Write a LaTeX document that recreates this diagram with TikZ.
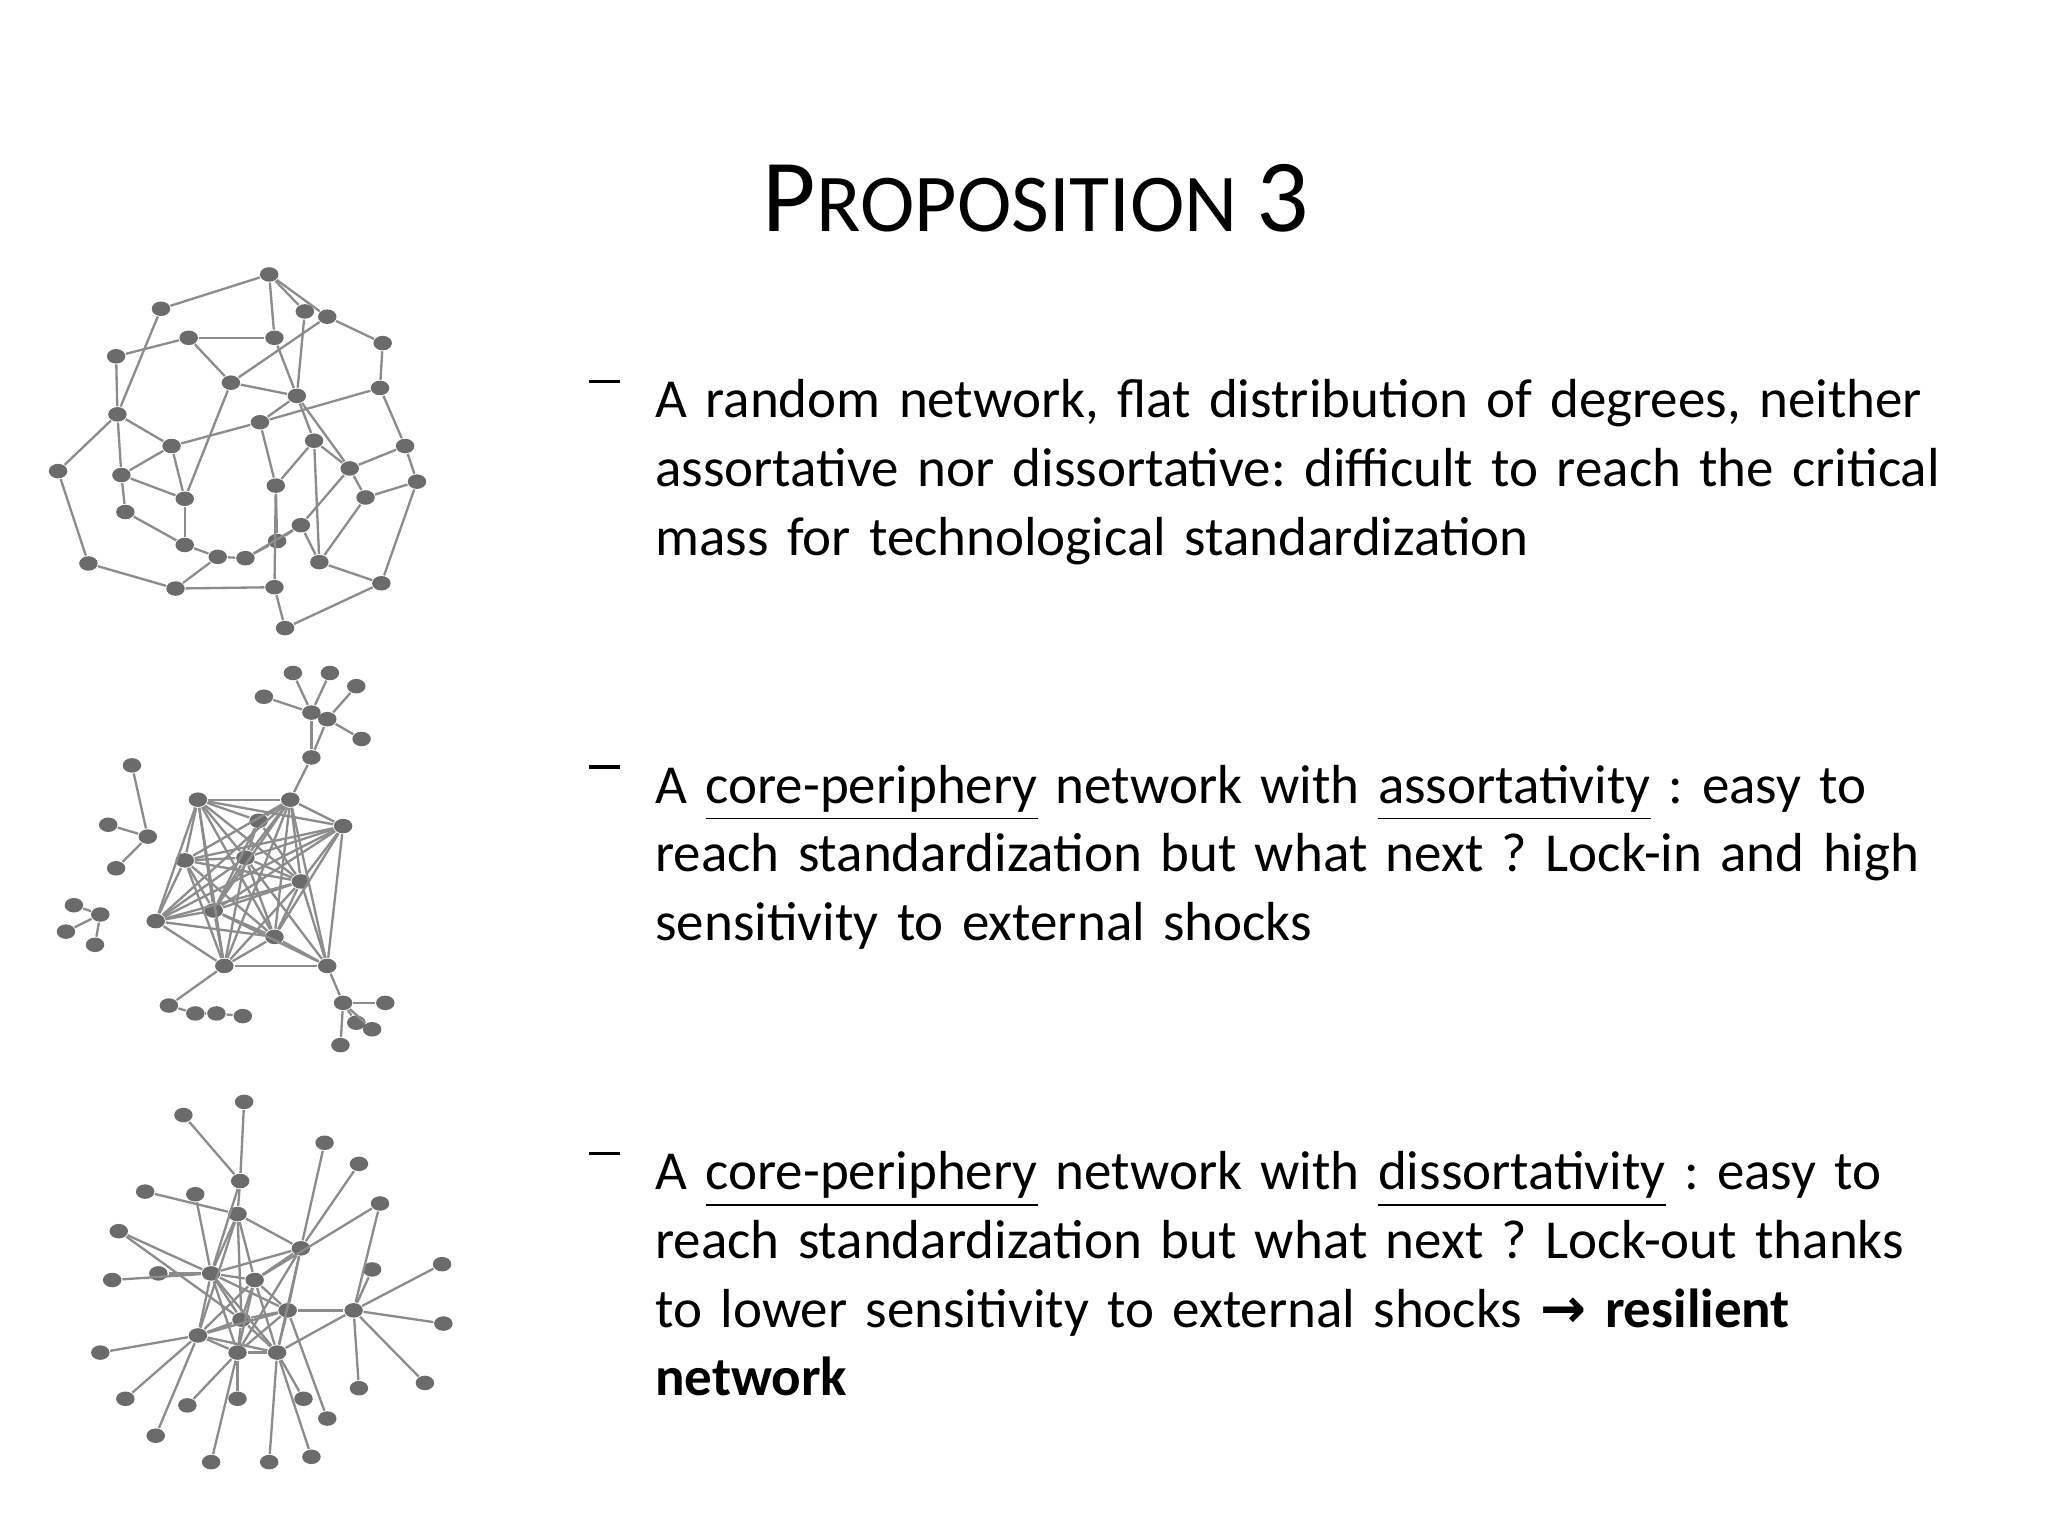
\documentclass[tikz,border=0pt]{standalone}
\usepackage{fontspec}
\usetikzlibrary{shapes.geometric}
\setmainfont{Carlito}
\newfontfamily\symfont{DejaVu Sans}
\frenchspacing
\newcommand{\mydash}{\rule[0.22em]{0.55em}{0.07em}}
\begin{document}
\begin{tikzpicture}[x=0.01cm,y=-0.01cm,
  lnk/.style={draw=black!45,line width=0.5pt},
  body/.style={anchor=north west,align=left,inner sep=0pt,font=\fontsize{11.85}{14.8}\selectfont,text width=11cm}]
\useasboundingbox (0,0) rectangle (1552,1164);
\tikzset{vtx/.style={ellipse,fill=black!58,inner sep=0pt,minimum width=0.14cm,minimum height=0.11cm}}
% title
\node (title) at (785,150) {\fontsize{22.3}{26}\selectfont P\fontsize{17.7}{21}\selectfont ROPOSITION \fontsize{22.3}{26}\selectfont 3};
% bullets
\node[body] (d1) at (446,287) {\mydash};
\node[body] (t1) at (496,287) {A random network, flat distribution of degrees, neither\\assortative nor dissortative: difficult to reach the critical\\mass for technological standardization};
\node[body] (d2) at (446,579) {\mydash};
\node[body] (t2) at (496,579) {A \underline{core-periphery} network with \underline{assortativity} : easy to\\reach standardization but what next ? Lock-in and high\\sensitivity to external shocks};
\node[body] (d3) at (446,872) {\mydash};
\node[body] (t3) at (496,872) {A \underline{core-periphery} network with \underline{dissortativity} : easy to\\reach standardization but what next ? Lock-out thanks\\to lower sensitivity to external shocks {\symfont\bfseries →} \textbf{resilient}\\\textbf{network}};
% network 1
\foreach \n/\x/\y in {a/204/208,b/122/234,c/231/236,d/248/240,e/143/256,f/208/256,g/290/260,h/88/270,i/175/290,j/225/300,k/288/294,l/89/314,m/197/320,n/130/338,o/238/334,p/307/338,q/44/357,r/92/360,s/265/355,t/316/365,u/140/378,v/209/368,w/277/377,x/95/388,y/228/398,z/140/413,A/210/410,B/165/422,C/186/423,D/67/427,E/242/426,F/133/446,G/208/445,H/289/442,I/216/476}
  \node[vtx] (p\n) at (\x,\y) {};
\foreach \u/\v in {a/b,a/c,a/d,b/l,e/f,e/h,h/l,e/i,i/d,f/j,c/j,i/j,l/n,n/m,m/j,m/k,l/q,l/r,r/n,r/u,n/u,i/u,m/v,j/o,o/v,d/g,g/k,k/p,p/t,t/w,w/s,s/p,o/s,j/s,q/D,D/F,F/G,G/I,I/H,H/E,E/y,y/A,A/v,x/r,x/z,z/u,z/B,B/C,C/A,C/y,B/F,v/G,w/E,t/H,s/y,o/E,a/f}
  \draw[lnk] (p\u) -- (p\v);
% network 2
\foreach \n/\x/\y in {a/150/606,b/220/606,c/260/626,d/140/652,e/186/650,f/228/668,g/118/698,h/162/690,i/208/710,j/170/732,k/248/732,l/196/622,
 m/236/574,n/222/510,o/250/510,p/270/520,q/248/545,r/200/528,s/274/560,t/236/540,
 u/100/580,v/112/634,w/82/625,x/88/658,y/56/686,z/76/693,A/50/706,B/72/716,
 C/128/762,D/148/768,E/164/768,F/184/770,G/260/760,H/292/760,I/282/780,J/258/792,K/270/775}
  \node[vtx] (q\n) at (\x,\y) {};
\foreach \u/\v in {a/b,a/c,a/d,a/e,a/f,a/g,a/h,a/i,a/j,a/l,b/c,b/d,b/e,b/f,b/g,b/h,b/i,b/j,b/k,b/l,c/d,c/e,c/f,c/g,c/h,c/i,c/k,d/e,d/f,d/g,d/h,d/i,d/j,e/f,e/g,e/h,e/i,e/j,e/k,f/g,f/h,f/i,f/j,f/k,g/h,g/i,g/j,h/i,h/j,h/k,i/j,i/k,j/k,l/e,l/h,l/f,
 b/m,m/t,t/n,t/o,m/q,q/p,q/s,t/r,u/v,v/x,w/v,y/z,z/A,z/B,j/C,C/D,D/E,E/F,k/G,G/H,G/I,G/J,G/K}
  \draw[lnk] (q\u) -- (q\v);
% network 3
\foreach \n/\x/\y in {a/160/965,b/193/970,c/218/993,d/183/1000,e/150/1012,f/210/1025,g/180/1025,h/228/946,i/268/993,j/180/920,k/182/895,
 l/139/845,m/185/835,n/110/903,o/148/905,p/246/866,q/272/882,r/288/912,s/90/933,t/85/970,u/120/965,v/282/962,w/335/958,x/336/1003,y/76/1025,z/95/1060,A/118/1088,B/160/1108,C/204/1108,D/236/1104,E/248/1075,F/272/1052,G/322/1048,H/230/1060,I/180/1060,J/142/1065}
  \node[vtx] (r\n) at (\x,\y) {};
\foreach \u/\v in {a/b,a/c,a/d,a/e,a/f,a/g,a/h,a/j,a/k,b/c,b/d,b/e,b/f,b/g,b/h,b/j,c/d,c/e,c/f,c/g,c/h,c/i,d/e,d/f,d/g,d/j,e/f,e/g,e/j,f/g,f/h,g/h,h/j,j/k,i/c,i/f,
 k/l,k/m,j/n,a/o,h/p,h/q,i/r,a/s,a/t,a/u,i/v,i/w,i/x,e/y,e/z,e/A,g/B,f/C,f/D,c/E,i/F,i/G,f/H,g/I,g/J,b/r,d/s}
  \draw[lnk] (r\u) -- (r\v);
\end{tikzpicture}
\end{document}
